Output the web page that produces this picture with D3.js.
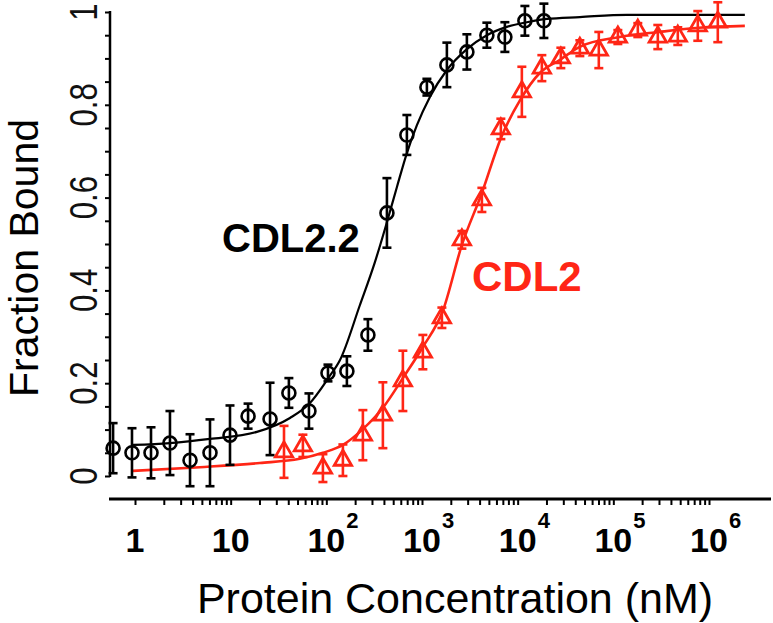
<!DOCTYPE html>
<html><head><meta charset="utf-8">
<script src="https://cdn.jsdelivr.net/npm/d3@7/dist/d3.min.js"></script>
<style>
html,body{margin:0;padding:0;background:#fff;}
svg{display:block;font-family:"Liberation Sans",Arial,Helvetica,sans-serif;}
</style></head>
<body>
<svg id="chart" width="773" height="623"></svg>
<script>
// ---- data ----
const xTickLabels = ["1", "10", "10", "10", "10", "10", "10"];
const xTickExps   = ["", "", "2", "3", "4", "5", "6"];
const xTickValues = [1, 10, 100, 1000, 10000, 100000, 1000000];
const yTickValues = [0, 0.2, 0.4, 0.6, 0.8, 1];
const yTickLabels = ["0", "0.2", "0.4", "0.6", "0.8", "1"];

// CDL2.2 (black circles)
const cdl22Conc = [0.59, 0.93, 1.47, 2.32, 3.76, 6.08, 9.84, 15.2, 25.8, 40.6, 65.8, 104, 164, 272, 430, 695, 1125, 1820, 2945, 4765, 7350, 11900, 18800];
const cdl22Frac = [0.060, 0.050, 0.050, 0.071, 0.034, 0.050, 0.088, 0.129, 0.123, 0.179, 0.140, 0.222, 0.226, 0.304, 0.567, 0.735, 0.838, 0.886, 0.914, 0.950, 0.946, 0.981, 0.981];
const cdl22Err  = [0.054, 0.053, 0.055, 0.069, 0.056, 0.072, 0.064, 0.027, 0.078, 0.032, 0.038, 0.018, 0.032, 0.034, 0.075, 0.043, 0.018, 0.048, 0.038, 0.027, 0.032, 0.032, 0.037];
const cdl22FitConc = [0.953, 2.32, 6.08, 18.8, 41.7, 65.8, 106.5, 139, 224, 322, 430, 547, 695, 885, 1210, 1820, 2945, 4765, 7710, 12470, 20180, 44670, 138400, 2370000];
const cdl22FitFrac = [0.067, 0.071, 0.080, 0.095, 0.125, 0.155, 0.213, 0.250, 0.368, 0.461, 0.547, 0.623, 0.696, 0.756, 0.817, 0.875, 0.920, 0.950, 0.968, 0.978, 0.985, 0.989, 0.994, 0.994];

// CDL2 (red triangles)
const cdl2Conc = [36.1, 56.9, 92.1, 149, 241, 390, 631, 1021, 1614, 2612, 4226, 6672, 11060, 17900, 28270, 44670, 70500, 111500, 180300, 291700, 472000, 763700, 1236000];
const cdl2Frac = [0.052, 0.065, 0.017, 0.034, 0.088, 0.131, 0.205, 0.267, 0.341, 0.509, 0.595, 0.748, 0.828, 0.879, 0.901, 0.922, 0.918, 0.946, 0.961, 0.946, 0.948, 0.970, 0.978];
const cdl2Err  = [0.056, 0.024, 0.030, 0.034, 0.054, 0.071, 0.065, 0.037, 0.022, 0.019, 0.026, 0.022, 0.054, 0.028, 0.022, 0.017, 0.039, 0.015, 0.015, 0.026, 0.019, 0.032, 0.043];
const cdl2FitConc = [0.953, 4.78, 20.2, 52.8, 92.1, 149, 241, 390, 631, 1021, 1652, 2612, 4226, 6672, 10600, 17130, 27700, 44670, 116000, 303000, 788000, 2370000];
const cdl2FitFrac = [0.011, 0.019, 0.028, 0.037, 0.050, 0.067, 0.101, 0.147, 0.211, 0.278, 0.356, 0.498, 0.610, 0.728, 0.810, 0.869, 0.897, 0.925, 0.946, 0.957, 0.966, 0.970];

const seriesNames = ["CDL2.2", "CDL2"];
const xTitle = "Protein Concentration (nM)";
const yTitle = "Fraction Bound";

// ---- layout ----
const RED = "#ff2616", BLACK = "#000";
const svg = d3.select("#chart");
const x = d3.scaleLog().domain([1, 1e6]).range([135, 709]);
const y = d3.scaleLinear().domain([0, 1]).range([476, 12]);

// minor log ticks
const xMinor = [];
for (let e = 0; e < 6; e++) for (let k = 1; k < 10; k++) xMinor.push(k * Math.pow(10, e));
xMinor.push(1e6);

// X axis
const axisY = 499;
svg.append("line").attr("x1", 109).attr("x2", 771).attr("y1", axisY).attr("y2", axisY)
  .attr("stroke", BLACK).attr("stroke-width", 3);
const gx = svg.append("g").attr("transform", `translate(0,${axisY})`)
  .call(d3.axisBottom(x).tickValues(xMinor).tickSize(6).tickFormat(""));
gx.select(".domain").remove();
gx.selectAll(".tick line").attr("stroke", BLACK).attr("stroke-width", 2);

const xl = svg.append("g");
xTickValues.forEach((v, i) => {
  const px = x(v);
  xl.append("text").attr("x", px).attr("y", 552).attr("text-anchor", "middle")
    .attr("font-size", 34).attr("font-weight", "bold").attr("fill", BLACK).text(xTickLabels[i]);
  if (xTickExps[i]) {
    xl.append("text").attr("x", px + 20).attr("y", 528)
      .attr("font-size", 22).attr("font-weight", "bold").attr("fill", BLACK).text(xTickExps[i]);
  }
});

// Y axis
const axisX = 110;
svg.append("line").attr("x1", axisX).attr("x2", axisX).attr("y1", y(1) - 1).attr("y2", y(0) + 1)
  .attr("stroke", BLACK).attr("stroke-width", 2.5);
const gy = svg.append("g").attr("transform", `translate(${axisX},0)`)
  .call(d3.axisLeft(y).tickValues(d3.range(0, 1.0001, 0.05)).tickSize(5).tickFormat(""));
gy.select(".domain").remove();
gy.selectAll(".tick line").attr("stroke", BLACK).attr("stroke-width", 2);

yTickValues.forEach((v, i) => {
  svg.append("text").attr("transform", `translate(97,${y(v)}) rotate(-90) scale(0.8,1)`)
    .attr("text-anchor", "middle").attr("font-size", 39).attr("fill", "#111").text(yTickLabels[i]);
});

// Titles
svg.append("text").attr("transform", "translate(38,258) rotate(-90)")
  .attr("text-anchor", "middle").attr("font-size", 41).attr("fill", BLACK).text(yTitle);
svg.append("text").attr("x", 455).attr("y", 613).attr("text-anchor", "middle")
  .attr("font-size", 43).attr("fill", BLACK).text(xTitle);

// Fit curves
const line = d3.line().x(d => x(d[0])).y(d => y(d[1])).curve(d3.curveMonotoneX);
svg.append("path").datum(cdl22FitConc.map((c, i) => [c, cdl22FitFrac[i]]))
  .attr("d", line).attr("fill", "none").attr("stroke", BLACK).attr("stroke-width", 2.2);
svg.append("path").datum(cdl2FitConc.map((c, i) => [c, cdl2FitFrac[i]]))
  .attr("d", line).attr("fill", "none").attr("stroke", RED).attr("stroke-width", 2.6);

// Error bars + markers
function drawSeries(conc, frac, err, color, type) {
  const g = svg.append("g").attr("stroke", color).attr("fill", "none").attr("stroke-width", 2.6);
  const data = conc.map((c, i) => ({c, f: frac[i], e: err[i]}));
  const cap = 4.5;
  data.forEach(d => {
    const px = x(d.c), py0 = y(d.f - d.e), py1 = y(d.f + d.e);
    g.append("line").attr("x1", px).attr("x2", px).attr("y1", py0).attr("y2", py1);
    g.append("line").attr("x1", px - cap).attr("x2", px + cap).attr("y1", py0).attr("y2", py0);
    g.append("line").attr("x1", px - cap).attr("x2", px + cap).attr("y1", py1).attr("y2", py1);
    if (type === "circle") {
      g.append("circle").attr("cx", px).attr("cy", y(d.f)).attr("r", 6.5);
    } else {
      g.append("path").attr("d", d3.symbol(d3.symbolTriangle, 130)())
        .attr("transform", `translate(${px},${y(d.f)})`).attr("stroke-width", 2.8);
    }
  });
}
drawSeries(cdl22Conc, cdl22Frac, cdl22Err, BLACK, "circle");
drawSeries(cdl2Conc, cdl2Frac, cdl2Err, RED, "triangle");

// Series labels
svg.append("text").attr("x", 222).attr("y", 252).attr("font-size", 40).attr("font-weight", "bold")
  .attr("fill", BLACK).text(seriesNames[0]);
svg.append("text").attr("x", 472).attr("y", 291).attr("font-size", 42).attr("font-weight", "bold")
  .attr("fill", RED).text(seriesNames[1]);
</script>
</body></html>
